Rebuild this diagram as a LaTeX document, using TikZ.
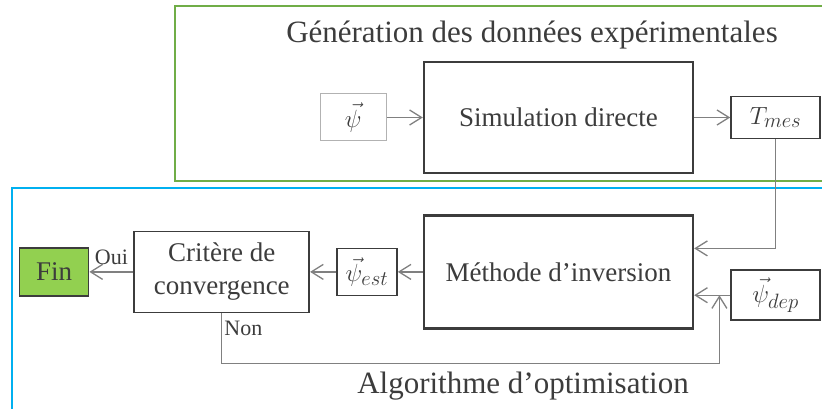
\documentclass[tikz,border=0pt]{standalone}
\usepackage{fontspec}
\setmainfont{Liberation Serif}
\usetikzlibrary{positioning,arrows.meta,calc}
\definecolor{txtGray}{RGB}{60,60,60}
\definecolor{lnGray}{RGB}{128,128,128}
\definecolor{frmGreen}{RGB}{112,173,71}
\definecolor{frmBlue}{RGB}{0,176,240}
\definecolor{finGreen}{RGB}{146,208,80}
\tikzstyle{box}=[rectangle, draw=txtGray, text=txtGray, align=center, inner sep=0pt, font=\fontsize{27}{33}\selectfont]
\tikzstyle{bigbox}=[box, line width=2.4pt, minimum width=269pt, minimum height=111pt]
\tikzstyle{smallbox}=[box, line width=1.7pt, minimum height=47pt]
\tikzstyle{mathbox}=[smallbox, font=\fontsize{31}{36}\selectfont]
\tikzstyle{styFrm}=[line width=2.5pt]
\tikzstyle{myarrow}=[-{Straight Barb[length=12pt,width=15pt]}, draw=lnGray, line width=1.3pt]
\tikzstyle{lbl}=[text=txtGray, inner sep=2pt, font=\fontsize{22}{26}\selectfont]
\tikzstyle{title}=[text=txtGray, font=\fontsize{31}{36}\selectfont]

\begin{document}
\begin{tikzpicture}[x=1pt,y=-1pt]
\useasboundingbox (0,0) rectangle (822,409);
\clip (0,0) rectangle (822,409);

% the two frames run past the right (and bottom) edge
\draw[styFrm, draw=frmGreen] (175,6) rectangle (850,181);
\draw[styFrm, draw=frmBlue] (12,188) rectangle (850,440);

\node[title] (genTitle) at (532,35) {Génération des données expérimentales};
\node[title] (algTitle) at (523,386) {Algorithme d’optimisation};

% upper row
\node[bigbox] (sim) at (558.5,117.5) {Simulation directe};
\node[mathbox, draw=black!30, line width=1pt, minimum width=66pt, left=36pt of sim] (psi) {$\vec{\psi}$};
\node[mathbox, minimum width=89pt, minimum height=42pt, right=36pt of sim] (mes) {$T_{mes}$};

% lower row
\node[bigbox, minimum height=113pt, below=40pt of sim] (meth) {Méthode d’inversion};
\node[mathbox, minimum width=89pt, minimum height=50pt, below=130pt of mes] (dep) {$\vec{\psi}_{dep}$};
\node[mathbox, minimum width=60pt, left=25pt of meth] (est) {$\vec{\psi}_{est}$};
\node[smallbox, minimum width=175pt, minimum height=81pt, left=26pt of est] (crit) {Critère de\\convergence};
\node[smallbox, fill=finGreen, minimum width=69pt, minimum height=48pt, left=44pt of crit] (fin) {Fin};

\coordinate (merge) at ($(dep.west)!0.3!(meth.east |- dep.west)$);

\draw[myarrow] (psi) -- (sim);
\draw[myarrow] (sim) -- (mes);
\draw[myarrow] (mes.south) |- ($(meth.east)+(0,-23.5)$);
\draw[myarrow] (dep) -- (meth.east |- dep);
\draw[myarrow] (meth) -- (est);
\draw[myarrow] (est) -- (crit);
\draw[myarrow] (crit) -- node[lbl, above=5pt] {Oui} (fin);
\draw[myarrow] (crit.south) -- node[lbl, right, pos=0.3] {Non} ++(0,50) -| (merge);

\end{tikzpicture}
\end{document}
